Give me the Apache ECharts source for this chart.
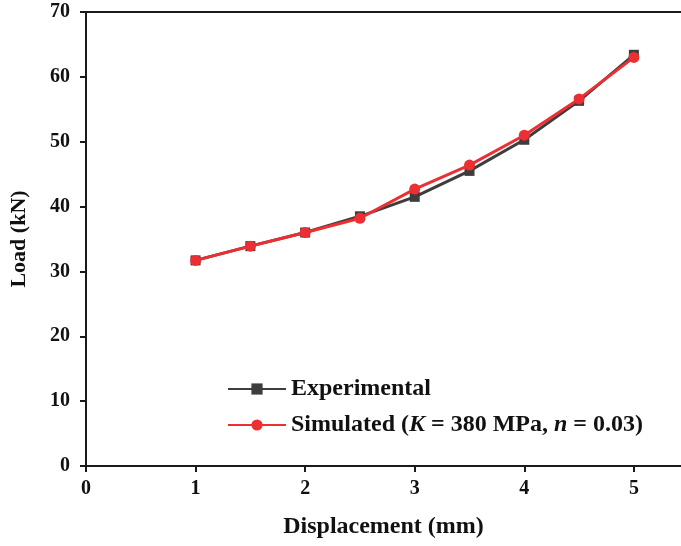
<!DOCTYPE html>
<html>
<head>
<meta charset="utf-8">
<script src="https://cdn.jsdelivr.net/npm/echarts@6/dist/echarts.min.js"></script>
<style>
  html, body { margin: 0; padding: 0; background: #fff; }
  #chart { width: 681px; height: 546px; }
</style>
</head>
<body>
<div id="chart"></div>
<script>
// Load–displacement data
const displacement = [1, 1.5, 2, 2.5, 3, 3.5, 4, 4.5, 5];
const experimental = [31.7, 33.9, 36.0, 38.5, 41.5, 45.5, 50.3, 56.3, 63.4];
const simulated    = [31.7, 33.9, 36.0, 38.2, 42.7, 46.4, 51.0, 56.6, 63.0];
const seriesNames  = ['Experimental', 'Simulated (K = 380 MPa, n = 0.03)'];
const xTicks = [0, 1, 2, 3, 4, 5];

const FONT = '"Liberation Serif", "Times New Roman", serif';
const AXIS_COLOR = '#1a1a1a';

const pairs = (xs, ys) => xs.map((x, i) => [x, ys[i]]);

const chart = echarts.init(document.getElementById('chart'), null, { renderer: 'canvas' });

chart.setOption({
  animation: false,
  backgroundColor: '#ffffff',
  grid: { left: 85, right: 0, top: 12, bottom: 80, containLabel: false },
  legend: {
    orient: 'vertical',
    left: 222,
    top: 372,
    itemWidth: 58,
    itemHeight: 14,
    itemGap: 12,
    data: seriesNames,
    formatter: function (name) {
      if (name === seriesNames[1]) {
        return '{b|Simulated (}{i|K}{b| = 380 MPa, }{i|n}{b| = 0.03)}';
      }
      return '{b|' + name + '}';
    },
    textStyle: {
      color: '#111',
      rich: {
        b: { fontFamily: FONT, fontWeight: 'bold', fontSize: 24, lineHeight: 26, color: '#111' },
        i: { fontFamily: FONT, fontWeight: 'bold', fontStyle: 'italic', fontSize: 24, lineHeight: 26, color: '#111' }
      }
    }
  },
  xAxis: [{
    type: 'value',
    min: 0,
    max: 5.43,
    position: 'bottom',
    name: 'Displacement (mm)',
    nameLocation: 'middle',
    nameGap: 49,
    nameTextStyle: { fontFamily: FONT, fontWeight: 'bold', fontSize: 24, color: '#111' },
    axisLine: { show: true, lineStyle: { color: AXIS_COLOR, width: 2 } },
    axisTick: { show: true, inside: false, length: 6, customValues: xTicks, lineStyle: { color: AXIS_COLOR, width: 2 } },
    axisLabel: {
      margin: 13,
      customValues: xTicks,
      fontFamily: FONT, fontWeight: 'bold', fontSize: 20, color: '#111'
    },
    splitLine: { show: false }
  }, {
    type: 'value',
    min: 0,
    max: 5.43,
    position: 'top',
    axisLine: { show: true, lineStyle: { color: AXIS_COLOR, width: 2 } },
    axisTick: { show: false },
    axisLabel: { show: false },
    splitLine: { show: false }
  }],
  yAxis: {
    type: 'value',
    min: 0,
    max: 70,
    interval: 10,
    name: 'Load (kN)',
    nameLocation: 'middle',
    nameGap: 56,
    nameTextStyle: { fontFamily: FONT, fontWeight: 'bold', fontSize: 22, color: '#111' },
    axisLine: { show: true, lineStyle: { color: AXIS_COLOR, width: 2 } },
    axisTick: { show: true, inside: false, length: 6, lineStyle: { color: AXIS_COLOR, width: 2 } },
    axisLabel: { margin: 16, fontFamily: FONT, fontWeight: 'bold', fontSize: 20, color: '#111' },
    splitLine: { show: false }
  },
  series: [{
    name: seriesNames[0],
    type: 'line',
    xAxisIndex: 0,
    data: pairs(displacement, experimental),
    symbol: 'rect',
    symbolSize: 10,
    lineStyle: { color: '#3d3d3d', width: 3 },
    itemStyle: { color: '#3d3d3d' },
    z: 2
  }, {
    name: seriesNames[1],
    type: 'line',
    xAxisIndex: 0,
    data: pairs(displacement, simulated),
    symbol: 'circle',
    symbolSize: 11,
    lineStyle: { color: '#ec2f33', width: 3 },
    itemStyle: { color: '#ec2f33' },
    z: 3
  }]
});
</script>
</body>
</html>
